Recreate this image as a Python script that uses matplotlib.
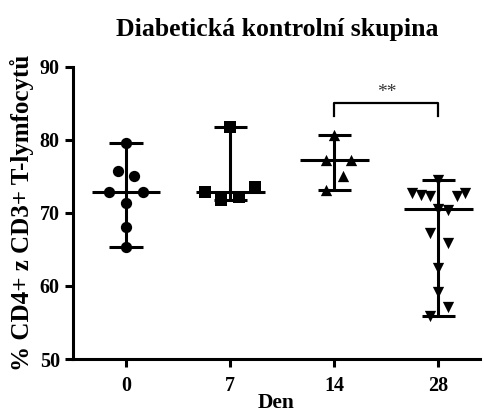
import numpy as np
import matplotlib.pyplot as plt

plt.rcParams['font.family'] = ['Liberation Serif', 'DejaVu Serif']
plt.rcParams['font.weight'] = 'bold'

# CD4+ share of CD3+ T cells per sampling day
days = ['0', '7', '14', '28']
den0 = [79.6, 75.7, 75.0, 72.9, 72.9, 71.4, 68.1, 65.3]
den7 = [81.8, 72.9, 71.8, 72.2, 73.5]
den14 = [80.7, 77.3, 77.3, 75.0, 73.2]
den28 = [74.5, 72.7, 72.5, 72.3, 72.3, 72.7, 70.6, 70.4, 67.2, 65.9,
         62.4, 59.2, 57.1, 55.9]

# horizontal scatter of the points within each column
off0 = [0, -0.08, 0.08, -0.16, 0.16, 0, 0, 0]
off7 = [0, -0.24, -0.09, 0.08, 0.24]
off14 = [0, -0.08, 0.16, 0.08, -0.08]
off28 = [0, -0.25, -0.17, -0.08, 0.18, 0.26, 0, 0.09, -0.08, 0.09,
         0, 0, 0.09, -0.08]

groups = [den0, den7, den14, den28]
offsets = [off0, off7, off14, off28]
markers = ['o', 's', '^', 'v']

fig = plt.figure(figsize=(4.85, 4.16), dpi=100)
ax = fig.add_axes([0.1505, 0.137, 0.8392, 0.702])

lw = 2.2
for i, (vals, offs, m) in enumerate(zip(groups, offsets, markers)):
    vals = np.array(vals)
    xs = i + np.array(offs)
    ax.scatter(xs, vals, marker=m, s=66, color='black', zorder=3, linewidths=0)
    lo, hi, med = vals.min(), vals.max(), np.median(vals)
    ax.vlines(i, lo, hi, color='black', lw=lw, zorder=2)
    ax.hlines([lo, hi], i - 0.16, i + 0.16, color='black', lw=lw, zorder=2)
    ax.hlines(med, i - 0.33, i + 0.33, color='black', lw=lw, zorder=2)

# significance bracket between day 14 and day 28
ax.plot([2, 2, 3, 3], [83.3, 85.0, 85.0, 83.3], color='black', lw=1.6)
ax.text(2.5, 85.3, '**', ha='center', va='bottom', fontsize=14,
        fontweight='normal', color='#333333')

ax.set_xlim(-0.51, 3.40)
ax.set_ylim(50, 90)
ax.set_xticks(range(len(days)))
ax.set_xticklabels(days)
ax.set_yticks([50, 60, 70, 80, 90])
ax.tick_params(axis='both', labelsize=14.5, width=lw, length=6, color='black')
ax.tick_params(axis='x', pad=6)
ax.spines['top'].set_visible(False)
ax.spines['right'].set_visible(False)
for s in ['left', 'bottom']:
    ax.spines[s].set_linewidth(lw)

ax.set_xlabel('Den', fontsize=15.5, fontweight='bold', labelpad=-2)
ax.set_ylabel('% CD4+ z CD3+ T-lymfocytů', fontsize=18, fontweight='bold',
              labelpad=4)
fig.text(0.572, 0.93, 'Diabetická kontrolní skupina', ha='center',
         va='center', fontsize=18.5, fontweight='bold')

fig.savefig('out.png', dpi=100)
